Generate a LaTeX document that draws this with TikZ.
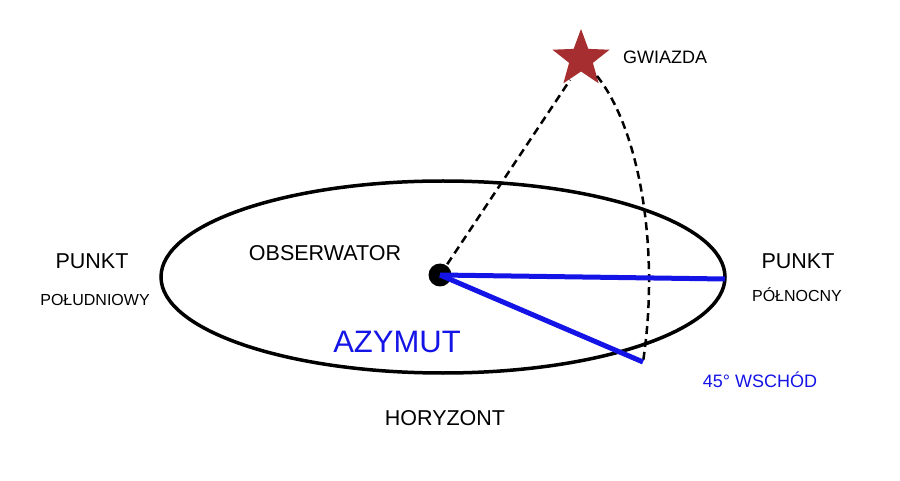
\documentclass[tikz,border=0pt]{standalone}
\usepackage{fontspec}
\setmainfont{Liberation Sans}
\usetikzlibrary{shapes.geometric}
\definecolor{starred}{RGB}{166,46,48}
\definecolor{azblue}{RGB}{20,20,230}
\begin{document}
\begin{tikzpicture}[x=1pt,y=-1pt,
  lbl/.style={font=\fontsize{21.5}{24}\selectfont},
  sm/.style={font=\fontsize{16}{18}\selectfont},
  dashln/.style={line width=2.5pt,dash pattern=on 8pt off 5pt}]
\useasboundingbox (0,0) rectangle (900,481);
\draw[line width=3.5pt] (443,277) ellipse [x radius=282, y radius=96];
\node[star,star points=5,star point ratio=2.4,fill=starred,minimum size=60pt,inner sep=0pt] (star) at (581,59) {};
\node[circle,fill=black,minimum size=23pt,inner sep=0pt] (obs) at (440,275) {};
\coordinate (north) at (725,279);
\coordinate (east) at (643,362);
\draw[dashln] (obs.center) -- (570,80);
\draw[dashln] (597,76) .. controls (640,130) and (660,250) .. (east);
\draw[azblue,line width=5pt] (obs.center) -- (north);
\draw[azblue,line width=5pt] (obs.center) -- (east);
\node[lbl] (pl) at (92,261) {PUNKT};
\node[sm] (pls) at (95,300) {POŁUDNIOWY};
\node[lbl] (ob) at (325,253) {OBSERWATOR};
\node[lbl] (pr) at (798,261) {PUNKT};
\node[sm] (prs) at (797,295) {PÓŁNOCNY};
\node[font=\fontsize{31}{34}\selectfont,text=azblue] (az) at (397,342) {AZYMUT};
\node[text=azblue,font=\fontsize{18}{20}\selectfont] (ws) at (760,380) {45° WSCHÓD};
\node[lbl] (hz) at (445,418) {HORYZONT};
\node[font=\fontsize{18}{20}\selectfont] (gw) at (665,57) {GWIAZDA};
\end{tikzpicture}
\end{document}
